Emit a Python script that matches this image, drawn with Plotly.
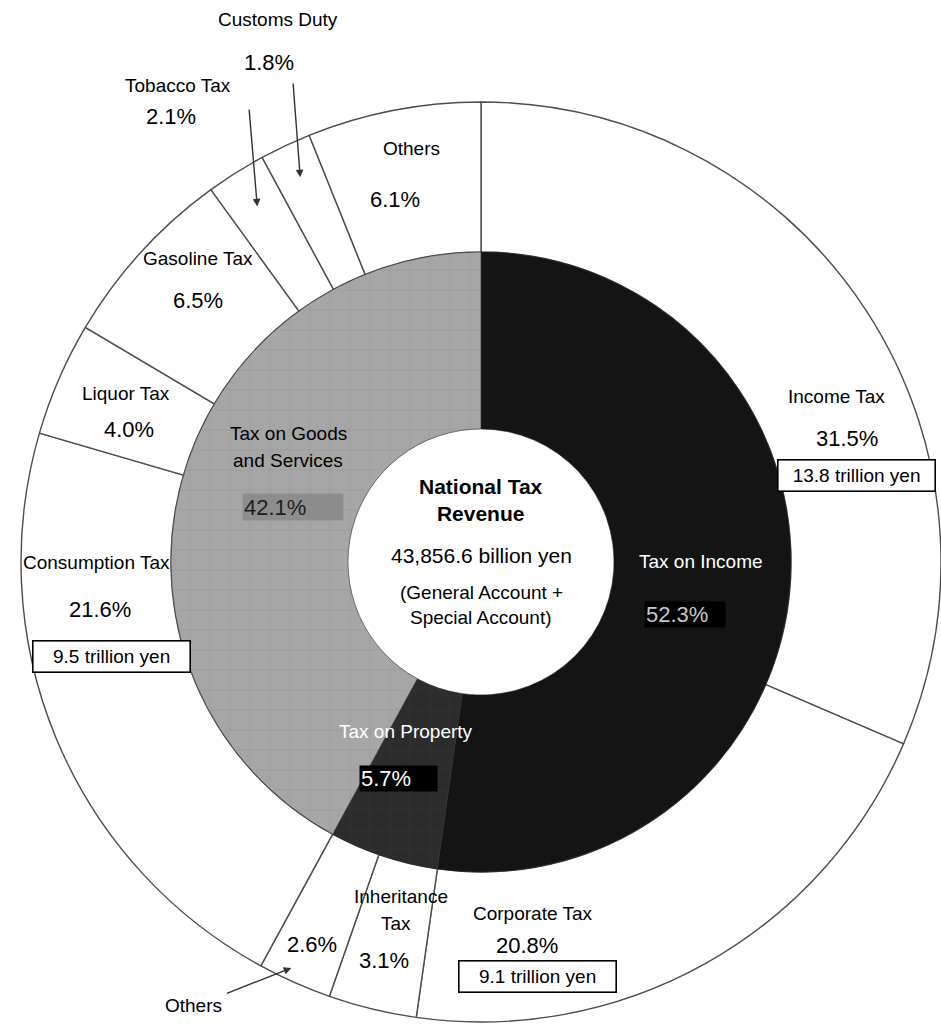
import math
import plotly.graph_objects as go

# ---------------- data ----------------
inner_names = ["Tax on Income", "Tax on Property", "Tax on Goods and Services"]
inner_values = [52.3, 5.7, 42.1]

outer_names = ["Income Tax", "Corporate Tax", "Inheritance Tax", "Others",
               "Consumption Tax", "Liquor Tax", "Gasoline Tax", "Tobacco Tax",
               "Customs Duty", "Others"]
outer_values = [31.5, 20.8, 3.1, 2.6, 21.6, 4.0, 6.5, 2.1, 1.8, 6.1]
outer_amounts = ["13.8 trillion yen", "9.1 trillion yen", "", "", "9.5 trillion yen",
                 "", "", "", "", ""]

center_title = "National Tax<br>Revenue"
center_total = "43,856.6 billion yen"
center_note = ["(General Account +", "Special Account)"]

# ---------------- geometry / style ----------------
W, H = 941, 1029
CX, CY = 481, 562
R_OUT, R_IN, R_HOLE = 460, 310, 133
FONT = "Liberation Sans, Arial, sans-serif"
INNER_COLORS = ["#141414", "#2c2c2c", "#a6a6a6"]
PCT = 22


def to_paper(x, y):
    return x / W, 1 - y / H


def polar(theta_deg, r):
    t = math.radians(theta_deg)
    return CX + r * math.sin(t), CY - r * math.cos(t)


def spans(values):
    tot = sum(values)
    out, acc = [], 0.0
    for v in values:
        a0 = acc / tot * 360
        acc += v
        out.append((a0, acc / tot * 360))
    return out


def dom(r):
    x0, x1 = (CX - r) / W, min((CX + r) / W, 1.0)
    y0, y1 = 1 - (CY + r) / H, 1 - (CY - r) / H
    return dict(x=[x0, x1], y=[y0, y1])


fig = go.Figure()

fig.add_trace(go.Pie(
    labels=[f"o{i}" for i in range(len(outer_values))],
    values=outer_values, sort=False, direction="clockwise", rotation=0,
    hole=R_IN / R_OUT, domain=dom(R_OUT), textinfo="none", hoverinfo="none",
    marker=dict(colors=["white"] * len(outer_values),
                line=dict(color="#4d4d4d", width=1.4)),
    showlegend=False,
))

fig.add_trace(go.Pie(
    labels=inner_names, values=inner_values, sort=False, direction="clockwise",
    rotation=0, hole=R_HOLE / R_IN, domain=dom(R_IN), textinfo="none",
    hoverinfo="none",
    marker=dict(colors=INNER_COLORS,
                line=dict(color="#2a2a2a", width=0.6),
                pattern=dict(shape=["", "+", "+"],
                             fgcolor=["#141414", "#383838", "#8e8e8e"],
                             bgcolor=INNER_COLORS, fillmode="overlay",
                             size=20, solidity=0.05, fgopacity=0.8)),
    showlegend=False,
))

ann = []


def text(x, y, s, size=19, color="black", bold=False, **kw):
    px, py = to_paper(x, y)
    if bold:
        s = f"<b>{s}</b>"
    d = dict(x=px, y=py, xref="paper", yref="paper", text=s, showarrow=False,
             xanchor="center", yanchor="middle",
             font=dict(family=FONT, size=size, color=color))
    d.update(kw)
    ann.append(d)


def boxed(x, y, s):
    text(x, y, s, size=19, bordercolor="black", borderwidth=1.6, borderpad=3,
         bgcolor="white", width=150, height=24)


def arrow(tail, tip):
    tx, ty = to_paper(*tip)
    ann.append(dict(x=tx, y=ty, xref="paper", yref="paper", text="", showarrow=True,
                    ax=tail[0] - tip[0], ay=tail[1] - tip[1], axref="pixel", ayref="pixel",
                    arrowhead=2, arrowsize=1.1, arrowwidth=1.4, arrowcolor="#333333",
                    standoff=0, startstandoff=0))


osp = spans(outer_values)
isp = spans(inner_values)


def at(span, frac, r):
    a0, a1 = span
    return polar(a0 + frac * (a1 - a0), r)


def pct(v):
    return f"{v:.1f}%"


# --- outer ring labels (anchor = percentage line) ---
# Income Tax
x, y = at(osp[0], 0.63, 386)
text(x - 10, y - 42, outer_names[0]); text(x, y, pct(outer_values[0]), PCT)
boxed(x + 10, y + 37, outer_amounts[0])
# Corporate Tax
x, y = at(osp[1], 0.80, 386)
text(x + 5, y - 32, outer_names[1]); text(x, y, pct(outer_values[1]), PCT)
boxed(x + 10, y + 31, outer_amounts[1])
# Inheritance Tax
x, y = at(osp[2], 0.5, 410)
text(x + 17, y - 64, "Inheritance"); text(x + 12, y - 37, "Tax")
text(x, y, pct(outer_values[2]), PCT)
# Others (property)
x, y = at(osp[3], 0.5, 418)
text(x, y, pct(outer_values[3]), PCT)
tip = at(osp[3], 0.62, 448)
arrow((tip[0] - 66, tip[1] + 26), tip)
text(tip[0] - 98, tip[1] + 38, outer_names[3])
# Consumption Tax
x, y = at(osp[4], 0.70, 384)
text(x - 3, y - 47, outer_names[4]); text(x, y, pct(outer_values[4]), PCT)
boxed(x + 12, y + 47, outer_amounts[4])
# Liquor Tax
x, y = at(osp[5], 0.30, 376)
text(x - 3, y - 36, outer_names[5]); text(x, y, pct(outer_values[5]), PCT)
# Gasoline Tax
x, y = at(osp[6], 0.515, 385)
text(x, y - 42, outer_names[6]); text(x, y, pct(outer_values[6]), PCT)
# Tobacco Tax (outside, arrow)
text(178, 85, outer_names[7]); text(171, 117, pct(outer_values[7]), PCT)
arrow((249, 108), at(osp[7], 0.5, 420))
# Customs Duty (outside, arrow)
text(278, 20, outer_names[8]); text(269, 62, pct(outer_values[8]), PCT)
arrow((293, 82), at(osp[8], 0.5, 425))
# Others (goods)
x, y = at(osp[9], 0.394, 372)
text(x + 16, y - 51, outer_names[9]); text(x, y, pct(outer_values[9]), PCT)

# --- inner ring labels ---
x, y = at(isp[0], 0.478, 220)
text(x, y, inner_names[0], 19, "white")
text(x - 16, y + 53, pct(inner_values[0]), PCT, "#c8c8c8", bgcolor="black",
     width=78, height=23, align="left", borderpad=1)
x, y = at(isp[1], 0.5, 205)
text(x - 10, y - 25, inner_names[1], 19, "white")
text(x - 18, y + 22, pct(inner_values[1]), PCT, "white", bgcolor="black",
     width=75, height=23, align="left", borderpad=1)
x, y = at(isp[2], 0.589, 218)
text(x, y - 27, "Tax on Goods", 19); text(x, y, "and Services", 19)
text(x + 5, y + 47, pct(inner_values[2]), PCT, "#1e1e1e", bgcolor="#8d8d8d",
     width=98, height=24, align="left", borderpad=1)

# --- centre ---
text(CX, CY - 62, center_title, 21, bold=True)
text(CX, CY - 7, center_total, 21)
text(CX, CY + 30, center_note[0], 19)
text(CX, CY + 55, center_note[1], 19)

fig.update_layout(width=W, height=H, margin=dict(l=0, r=0, t=0, b=0),
                  paper_bgcolor="white", plot_bgcolor="white",
                  showlegend=False, annotations=ann)

fig.write_html("out.html")
